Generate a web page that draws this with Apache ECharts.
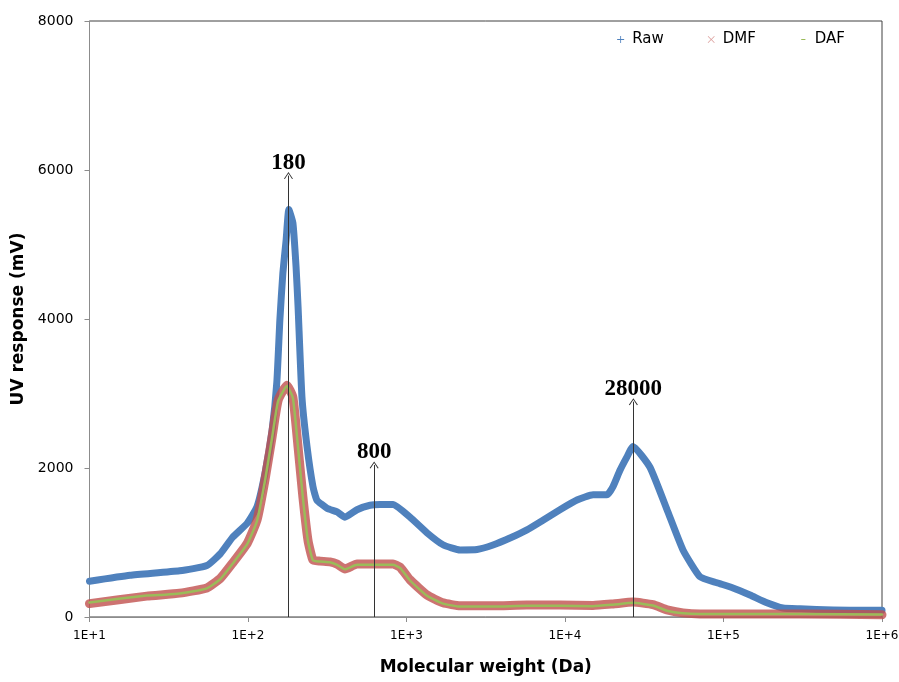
<!DOCTYPE html>
<html>
<head>
<meta charset="utf-8">
<script src="https://cdn.jsdelivr.net/npm/echarts@6/dist/echarts.min.js"></script>
<style>
html,body{margin:0;padding:0;background:#fff;}
#chart{width:899px;height:682px;}
</style>
</head>
<body>
<div id="chart"></div>
<script>
// ---- Data ----
const seriesNames = ['Raw', 'DMF', 'DAF'];

const rawMW = [10, 18, 37, 55, 67, 80, 99, 114, 128, 142, 152, 159, 166, 174, 181, 192, 201, 207, 219, 236, 257, 272, 315, 365, 409, 487, 589, 681, 822, 1052, 1347, 1699, 2178, 2786, 3515, 4498, 5755, 7263, 9290, 11900, 15030, 18410, 20090, 22230, 24600, 26850, 34360, 44030, 55500, 71100, 90960, 114800, 146900, 187900, 237100, 303900, 491000, 803500, 1000000];
const rawUV = [480, 560, 620, 690, 850, 1070, 1260, 1480, 1930, 2510, 3150, 4000, 4620, 5060, 5470, 5290, 4700, 4160, 2950, 2280, 1750, 1570, 1460, 1410, 1340, 1440, 1500, 1510, 1510, 1340, 1130, 970, 900, 905, 966, 1060, 1170, 1300, 1440, 1570, 1640, 1640, 1750, 1970, 2150, 2290, 2010, 1440, 900, 540, 460, 390, 295, 190, 120, 110, 95, 90, 90];

const dmfMW = [10, 23, 37, 55, 67, 80, 99, 114, 128, 142, 155, 176, 192, 207, 222, 239, 257, 285, 329, 365, 409, 487, 615, 822, 910, 1052, 1347, 1699, 2178, 3515, 5755, 9290, 15030, 20090, 26850, 35900, 44030, 55500, 71100, 114800, 303900, 1000000];
const dmfUV = [180, 280, 320, 390, 520, 725, 990, 1300, 1840, 2420, 2910, 3110, 2950, 2280, 1610, 1030, 765, 750, 740, 710, 645, 710, 710, 710, 670, 500, 295, 190, 150, 150, 160, 160, 155, 175, 200, 165, 95, 55, 40, 40, 40, 30];

const dafMW = [10, 23, 30, 37, 55, 67, 80, 99, 114, 128, 142, 155, 176, 192, 207, 222, 239, 257, 285, 329, 365, 409, 487, 615, 822, 910, 1052, 1347, 1699, 2178, 3515, 5755, 9290, 15030, 20090, 26850, 35900, 44030, 55500, 71100, 114800, 303900, 1000000];
const dafUV = [195, 290, 300, 315, 385, 510, 715, 980, 1290, 1830, 2410, 2900, 3100, 2940, 2270, 1600, 1020, 760, 745, 735, 700, 640, 700, 700, 700, 660, 490, 285, 180, 140, 140, 150, 150, 145, 165, 190, 155, 85, 50, 40, 40, 40, 35];

// annotation arrows: position (Da), arrow end (mV), label text
const arrowMW = [180, 625, 27000];
const arrowTop = [5925, 2040, 2890];
const arrowLabels = ['180', '800', '28000'];

// axis ticks
const xTickLabels = ['1E+1', '1E+2', '1E+3', '1E+4', '1E+5', '1E+6'];
const yMin = 0, yMax = 8000, yStep = 2000;

// ---- Chart ----
const colors = { Raw: '#4F81BD', DMF: '#C0504D', DAF: '#9BBB59' };
const pairs = (xs, ys) => xs.map((x, i) => [x, ys[i]]);

const iconPlus = 'path://M4.4,0h1.2v4.4h4.4v1.2h-4.4v4.4h-1.2v-4.4h-4.4v-1.2h4.4z';
const iconCross = 'path://M0.8,0L5,4.2L9.2,0L10,0.8L5.8,5L10,9.2L9.2,10L5,5.8L0.8,10L0,9.2L4.2,5L0,0.8Z';
const iconDash = 'path://M0,0h0.05v0.05h-0.05z M10,10h0.05v0.05h-0.05z M2,4.3h6v1.6h-6z';
const chevron = 'path://M0,10L5,0L10,10L9,10.6L5,2.2L1,10.6Z';

const uiFont = 'DejaVu Sans';

const chart = echarts.init(document.getElementById('chart'), null, { renderer: 'canvas' });

const markData = arrowMW.map((x, i) => [
  { coord: [x, 0], name: arrowLabels[i] },
  { coord: [x, arrowTop[i]] }
]);

chart.setOption({
  animation: false,
  backgroundColor: '#fff',
  grid: {
    left: 89.5, right: 17, top: 21, bottom: 65,
    containLabel: false, outerBoundsMode: 'none',
    show: true, borderColor: '#404040', borderWidth: 1
  },
  legend: {
    right: 49, top: 27,
    itemWidth: 7, itemHeight: 7, itemGap: 44,
    textStyle: { fontFamily: uiFont, fontSize: 15, color: '#000', padding: [0, 0, 0, 3] },
    data: [
      { name: 'Raw', icon: iconPlus },
      { name: 'DMF', icon: iconCross, itemStyle: { opacity: 0.55 } },
      { name: 'DAF', icon: iconDash }
    ]
  },
  xAxis: {
    type: 'log', logBase: 10, min: 10, max: 1000000,
    name: 'Molecular weight (Da)', nameLocation: 'middle', nameGap: 42,
    nameTextStyle: { fontFamily: uiFont, fontSize: 17, fontWeight: 'bold', color: '#000' },
    axisLine: { lineStyle: { color: '#8c8c8c', width: 1 } },
    axisTick: { show: true, inside: false, length: 5, lineStyle: { color: '#8c8c8c' } },
    minorTick: { show: false },
    splitLine: { show: false },
    axisLabel: {
      margin: 13, fontFamily: uiFont, fontSize: 12, color: '#000',
      formatter: v => xTickLabels[Math.round(Math.log10(v)) - 1] || ''
    }
  },
  yAxis: {
    type: 'value', min: yMin, max: yMax, interval: yStep,
    name: 'UV response (mV)', nameLocation: 'middle', nameGap: 58, nameRotate: 90,
    nameTextStyle: { fontFamily: uiFont, fontSize: 17, fontWeight: 'bold', color: '#000' },
    axisLine: { show: true, lineStyle: { color: '#8c8c8c', width: 1 } },
    axisTick: { show: true, inside: false, length: 5, lineStyle: { color: '#8c8c8c' } },
    splitLine: { show: false },
    axisLabel: { margin: 16, fontFamily: uiFont, fontSize: 14, color: '#000', formatter: v => String(v) }
  },
  series: [
    {
      name: 'Raw', type: 'line', data: pairs(rawMW, rawUV),
      showSymbol: false, symbol: iconPlus, smooth: 0.15,
      color: colors.Raw,
      lineStyle: { width: 7, color: colors.Raw, join: 'round', cap: 'round' },
      z: 2
    },
    {
      name: 'DMF', type: 'line', data: pairs(dmfMW, dmfUV),
      showSymbol: false, symbol: iconCross, smooth: 0.15,
      color: colors.DMF,
      lineStyle: { width: 9, color: colors.DMF, opacity: 0.8, join: 'round', cap: 'round' },
      z: 3
    },
    {
      name: 'DAF', type: 'line', data: pairs(dafMW, dafUV),
      showSymbol: false, symbol: iconDash, smooth: 0.15,
      color: colors.DAF,
      lineStyle: { width: 2.5, color: colors.DAF, join: 'round', cap: 'round' },
      z: 4
    },
    {
      name: 'arrows', type: 'line', data: [], z: 5,
      markLine: {
        silent: true, animation: false,
        symbol: ['none', chevron], symbolSize: [9, 7],
        lineStyle: { color: '#333', width: 1, type: 'solid' },
        label: {
          show: true, position: 'end', distance: 1,
          formatter: p => p.name,
          fontFamily: 'Liberation Serif', fontWeight: 'bold', fontSize: 23, color: '#000'
        },
        data: markData
      }
    }
  ]
});
</script>
</body>
</html>
